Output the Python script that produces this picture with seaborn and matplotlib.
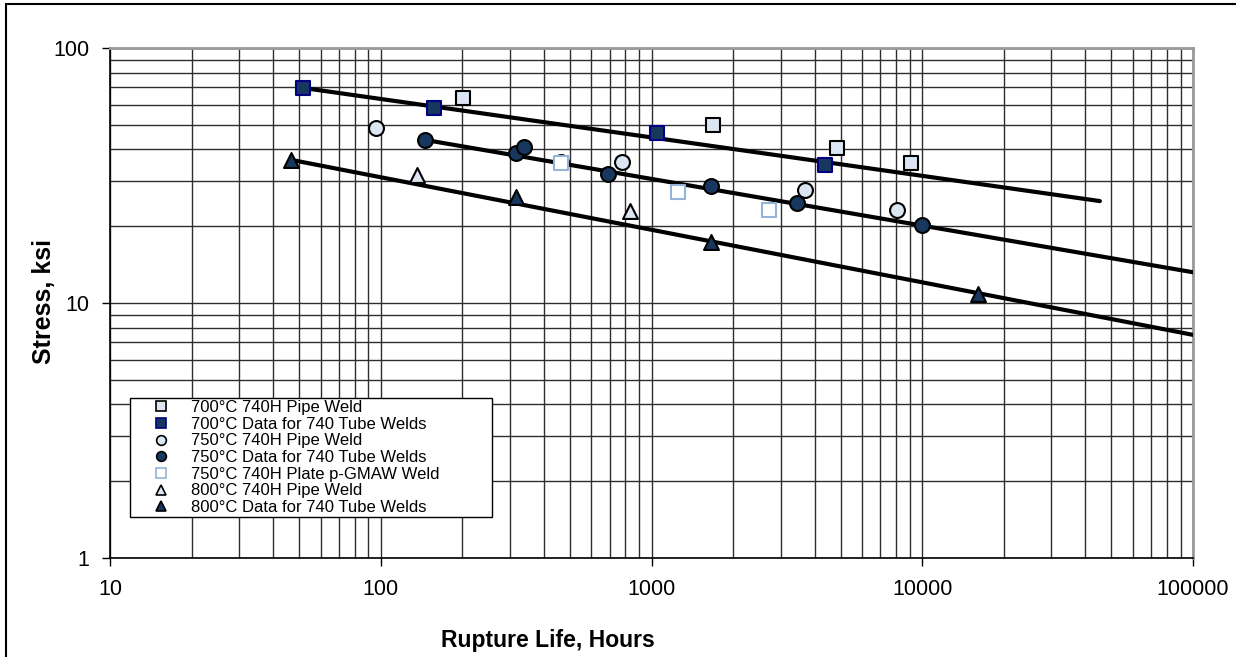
import matplotlib
matplotlib.use("Agg")
import matplotlib.pyplot as plt
import seaborn as sns
import pandas as pd
from matplotlib.lines import Line2D
from matplotlib.patches import Rectangle
from matplotlib.ticker import LogLocator, FixedLocator, NullFormatter

# ---- data ----
pipe700_x = [202, 1690, 4860, 9120]
pipe700_y = [63.7, 49.9, 40.5, 35.4]
tube700_x = [51.8, 157, 1048, 4385]
tube700_y = [69.7, 58.2, 46.4, 34.8]

pipe750_x = [96.4, 778, 3700, 8035]
pipe750_y = [48.6, 35.7, 27.8, 23.2]
tube750_x = [146, 315, 338, 462, 690, 1660, 3453, 9940]
tube750_y = [43.6, 38.7, 40.9, 35.7, 32.0, 28.7, 24.7, 20.2]
plate750_x = [462, 1253, 2722]
plate750_y = [35.5, 27.2, 23.2]

pipe800_x = [136, 832]
pipe800_y = [31.8, 22.9]
tube800_x = [46.8, 315, 1660, 16100]
tube800_y = [36.4, 26.0, 17.3, 10.8]

# trend lines (end points)
fit700_x = [51.8, 45300]
fit700_y = [69.7, 25.1]
fit750_x = [146, 100000]
fit750_y = [43.6, 13.2]
fit800_x = [46.8, 100000]
fit800_y = [36.4, 7.5]

labels = [
    "700°C 740H Pipe Weld",
    "700°C Data for 740 Tube Welds",
    "750°C 740H Pipe Weld",
    "750°C Data for 740 Tube Welds",
    "750°C 740H Plate p-GMAW Weld",
    "800°C 740H Pipe Weld",
    "800°C Data for 740 Tube Welds",
]

light = "#dce6f2"
navy = "#17375e"
pale = "#95b3d7"

sns.set_theme(style="white")
plt.rcParams["font.family"] = ["Liberation Sans", "DejaVu Sans"]
plt.rcParams["text.color"] = "black"
plt.rcParams["xtick.color"] = "black"
plt.rcParams["ytick.color"] = "black"

fig = plt.figure(figsize=(12.36, 6.57), dpi=100)
ax = fig.add_axes([110 / 1236, 1 - 558 / 657, 1083 / 1236, 510 / 657])

ax.set_xscale("log")
ax.set_yscale("log")
ax.set_xlim(10, 100000)
ax.set_ylim(1, 100)

# grid
ax.xaxis.set_minor_locator(LogLocator(base=10, subs=range(2, 10)))
ax.yaxis.set_minor_locator(LogLocator(base=10, subs=range(2, 10)))
ax.xaxis.set_minor_formatter(NullFormatter())
ax.yaxis.set_minor_formatter(NullFormatter())
ax.grid(True, which="both", color="#2e2e2e", linewidth=1.0)
ax.set_axisbelow(True)

# trend lines
for fx, fy in [(fit700_x, fit700_y), (fit750_x, fit750_y), (fit800_x, fit800_y)]:
    sns.lineplot(x=fx, y=fy, ax=ax, color="black", linewidth=3.0, zorder=3,
                 sort=False, estimator=None)

series = [
    (pipe700_x, pipe700_y, "s", light, "black"),
    (tube700_x, tube700_y, "s", navy, "#000080"),
    (pipe750_x, pipe750_y, "o", light, "black"),
    (tube750_x, tube750_y, "o", navy, "black"),
    (plate750_x, plate750_y, "s", "white", pale),
    (pipe800_x, pipe800_y, "^", light, "black"),
    (tube800_x, tube800_y, "^", navy, "black"),
]
for (sx, sy, mk, fc, ec), lab in zip(series, labels):
    df = pd.DataFrame({"x": sx, "y": sy})
    sns.scatterplot(data=df, x="x", y="y", ax=ax, marker=mk, s=115,
                    color=fc, edgecolor=ec, linewidth=1.5, zorder=4)

# ticks
ax.xaxis.set_major_locator(FixedLocator([10, 100, 1000, 10000, 100000]))
ax.yaxis.set_major_locator(FixedLocator([1, 10, 100]))
ax.set_xticklabels(["10", "100", "1000", "10000", "100000"])
ax.set_yticklabels(["1", "10", "100"])
ax.tick_params(axis="both", which="major", length=6, width=1, color="black",
               labelsize=15.5, pad=9, direction="out")
ax.tick_params(axis="both", which="minor", length=0)
ax.tick_params(axis="x", which="major", bottom=True)
ax.tick_params(axis="y", which="major", left=True)

for side in ["left", "bottom"]:
    ax.spines[side].set_color("black")
    ax.spines[side].set_linewidth(1.2)
for side in ["top", "right"]:
    ax.spines[side].set_color("#9a9a9a")
    ax.spines[side].set_linewidth(2)

ax.set_xlabel("")
ax.set_ylabel("")
fig.text(548 / 1236, 1 - 641 / 657, "Rupture Life, Hours", ha="center", va="center",
         fontsize=16.5, fontweight="bold")
fig.text(44 / 1236, 1 - 302 / 657, "Stress, ksi", ha="center", va="center",
         rotation=90, fontsize=18, fontweight="bold")

# legend
handles = [
    Line2D([], [], linestyle="none", marker=mk, markersize=7, markerfacecolor=fc,
           markeredgecolor=ec, markeredgewidth=1.2)
    for (_, _, mk, fc, ec) in series
]
leg = fig.legend(handles, labels, loc="upper left", mode="expand",
                 bbox_to_anchor=(130 / 1236, 1 - 515 / 657, 362 / 1236, 117 / 657),
                 fontsize=12, frameon=True, fancybox=False, borderaxespad=0,
                 handlelength=3.5, handletextpad=0.05, labelspacing=0.1,
                 borderpad=0.12)
leg.get_frame().set_edgecolor("black")
leg.get_frame().set_linewidth(1.0)
leg.get_frame().set_facecolor("white")
leg.get_frame().set_alpha(1)

# outer chart border
fig.patches.append(Rectangle((6 / 1236, -0.1), 1.2, 1 - 4 / 657 + 0.1,
                             transform=fig.transFigure, fill=False,
                             edgecolor="black", linewidth=1.5))

fig.savefig("out.png", dpi=100, facecolor="white")
